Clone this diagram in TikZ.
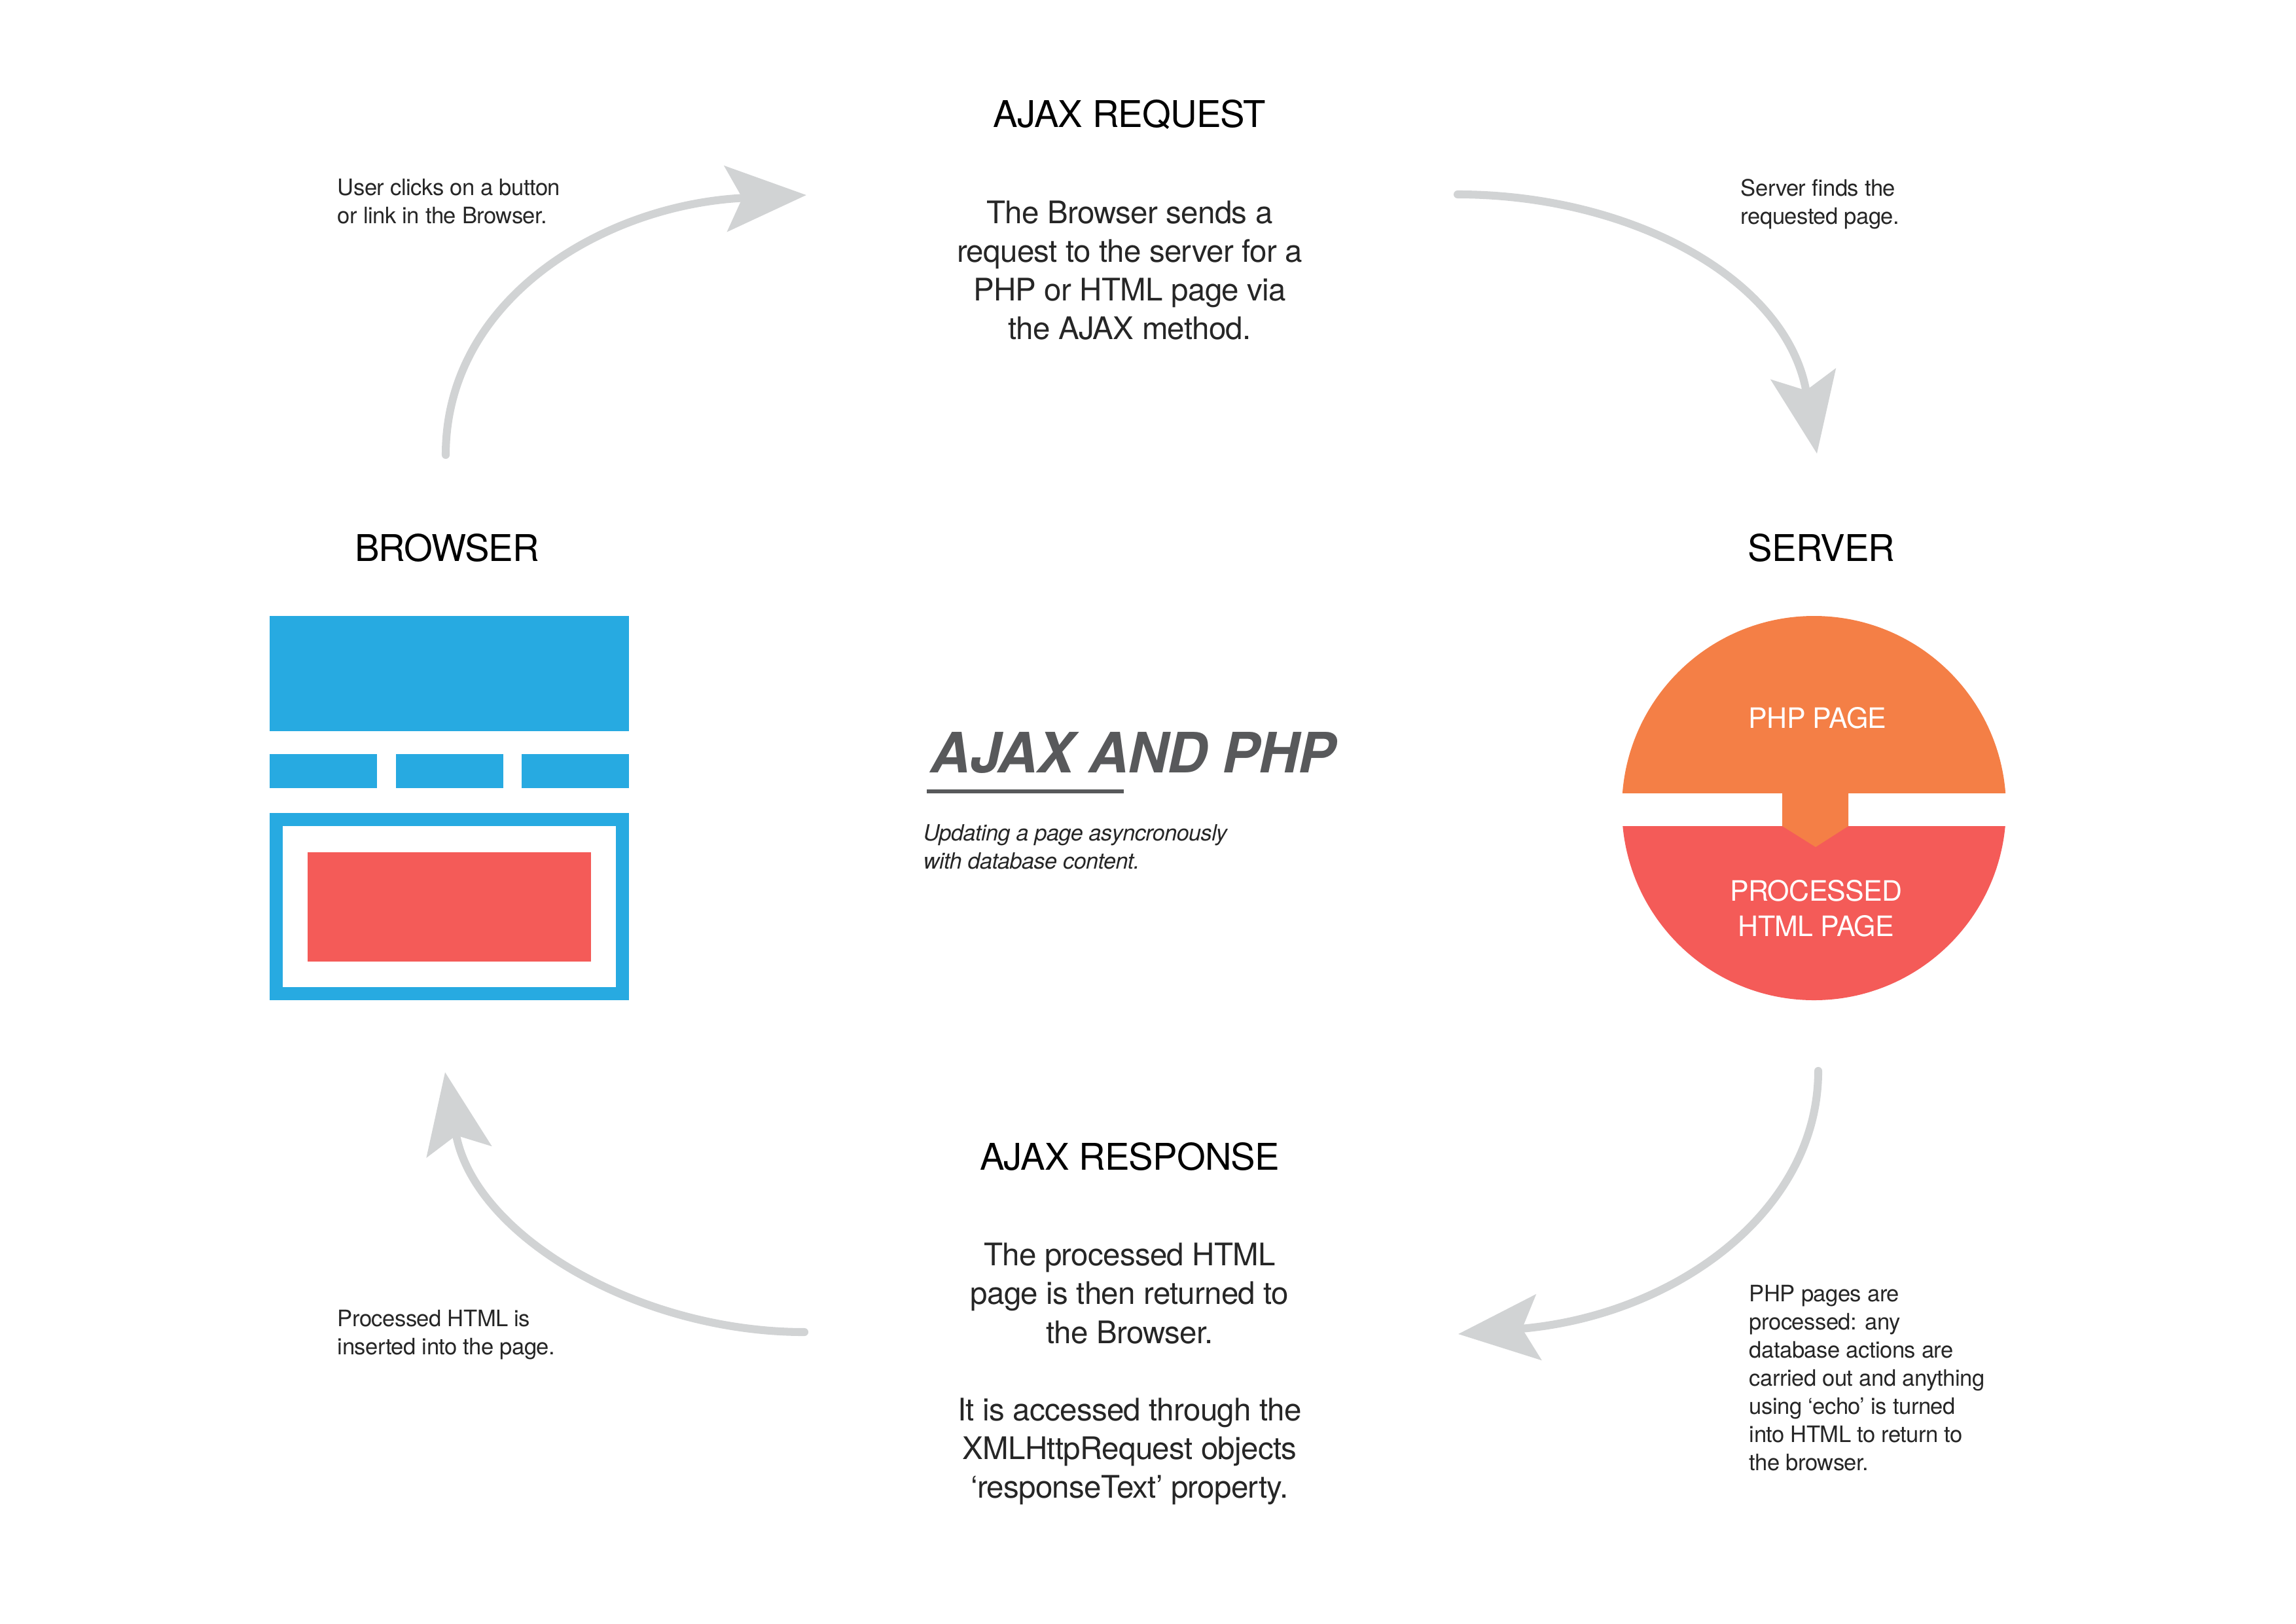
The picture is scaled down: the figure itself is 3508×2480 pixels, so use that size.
\documentclass[tikz,border=0pt]{standalone}
\usepackage{fontspec}
\setmainfont[LetterSpace=-1.5]{TeX Gyre Heros}
\usetikzlibrary{arrows.meta}
\definecolor{flowgrey}{HTML}{D1D3D4}
\definecolor{pageblue}{HTML}{27AAE1}
\definecolor{pagered}{HTML}{F45B58}
\definecolor{pageorange}{HTML}{F47F46}
\definecolor{titlegrey}{HTML}{58595B}
\tikzset{
	heading/.style={inner sep=0pt, font=\fontsize{13.5}{16}\selectfont},
	para/.style={inner sep=0pt, align=center, text=black!85, font=\fontsize{11.4}{14.2}\selectfont},
	note/.style={inner sep=0pt, anchor=west, align=left, text=black!85, font=\fontsize{8.3}{10.35}\selectfont},
	inpage/.style={inner sep=0pt, align=center, text=white, font=\fontsize{10.3}{13}\selectfont},
	bar/.style={inner sep=0pt, outer sep=0pt, fill=pageblue},
	flow/.style={->, draw=flowgrey, fill=none, line width=2.9pt, line cap=round},
}
\begin{document}
\begin{tikzpicture}[x=0.24pt, y=-0.24pt, >={Stealth[length=29.5pt,width=24pt,inset=6pt,flowgrey]}]
	\useasboundingbox (0,0) rectangle (3508,2480);
	\node[heading] (request) at (1726,175) {AJAX REQUEST};
	\node[heading] (browser) at (683,837) {BROWSER};
	\node[heading] (server) at (2783,837) {SERVER};
	\node[heading] (response) at (1726,1767) {AJAX RESPONSE};
	\node[para] (requesttext) at (1726,413) {The Browser sends a\\request to the server for a\\PHP or HTML page via\\the AJAX method.};
	\node[para] (responsetext) at (1726,2099) {The processed HTML\\page is then returned to\\the Browser.\\[14.2pt]It is accessed through the\\XMLHttpRequest objects\\‘responseText’ property.};
	\node[note] (clicknote) at (515,308) {User clicks on a button\\or link in the Browser.};
	\node[note] (findnote) at (2659,312) {Server finds the\\requested page.};
	\node[note] (insertnote) at (515,2039) {Processed HTML is\\inserted into the page.};
	\node[note] (phpnote) at (2672,2105) {PHP pages are\\processed: any\\database actions are\\carried out and anything\\using ‘echo’ is turned\\into HTML to return to\\the browser.};
	\node[inner sep=0pt, anchor=west, text=titlegrey, font=\fontsize{20.4}{24}\selectfont\bfseries\itshape] (title) at (1421,1150) {AJAX AND PHP};
	\node[note, font=\fontsize{8.2}{10.35}\selectfont\itshape] (subtitle) at (1410,1294) {Updating a page asyncronously\\with database content.};
	\coordinate (ruleleft) at (1416,1209);
	\coordinate (ruleright) at (1717,1209);
	\draw[titlegrey, line width=1.3pt] (ruleleft) -- (ruleright);
	\node[bar, minimum width=549*0.24pt, minimum height=176*0.24pt] (head) at (686.5,1029) {};
	\node[bar, minimum width=164*0.24pt, minimum height=52*0.24pt] (nava) at (494,1178) {};
	\node[bar, minimum width=164*0.24pt, minimum height=52*0.24pt] (navb) at (686.5,1178) {};
	\node[bar, minimum width=164*0.24pt, minimum height=52*0.24pt] (navc) at (879,1178) {};
	\node[inner sep=0pt, outer sep=0pt, draw=pageblue, line width=20*0.24pt, minimum width=529*0.24pt, minimum height=266*0.24pt] (frame) at (686.5,1385) {};
	\node[inner sep=0pt, outer sep=0pt, fill=pagered, minimum width=433*0.24pt, minimum height=167*0.24pt] (content) at (686.5,1385.5) {};
	\begin{scope}
		\clip (2400,1262) rectangle (3200,1600);
		\fill[pagered] (2771.5,1234.5) circle[radius=293.5];
	\end{scope}
	\begin{scope}
		\clip (2400,900) rectangle (3200,1211);
		\fill[pageorange] (2771.5,1234.5) circle[radius=293.5];
	\end{scope}
	\fill[pageorange] (2723,1205) -- (2824,1205) -- (2824,1262) -- (2774,1294) -- (2723,1262) -- cycle;
	\node[inpage] (phppage) at (2777,1097) {PHP PAGE};
	\node[inpage] (htmlpage) at (2775,1388) {PROCESSED\\HTML PAGE};
	\coordinate (browserout) at (681,695);
	\coordinate (requestin) at (1232,298);
	\coordinate (requestout) at (2227,297);
	\coordinate (serverin) at (2776,693);
	\coordinate (serverout) at (2778,1636);
	\coordinate (responsein) at (2228,2038);
	\coordinate (responseout) at (1229,2035);
	\coordinate (browserin) at (680,1638);
	\draw[flow] (browserout) .. controls (681,455) and (925,312) .. (requestin);
	\draw[flow] (requestout) .. controls (2490,297) and (2730,425) .. (serverin);
	\draw[flow] (serverout) .. controls (2778,1850) and (2560,2010) .. (responsein);
	\draw[flow] (responseout) .. controls (975,2035) and (724,1888) .. (browserin);
\end{tikzpicture}
\end{document}
